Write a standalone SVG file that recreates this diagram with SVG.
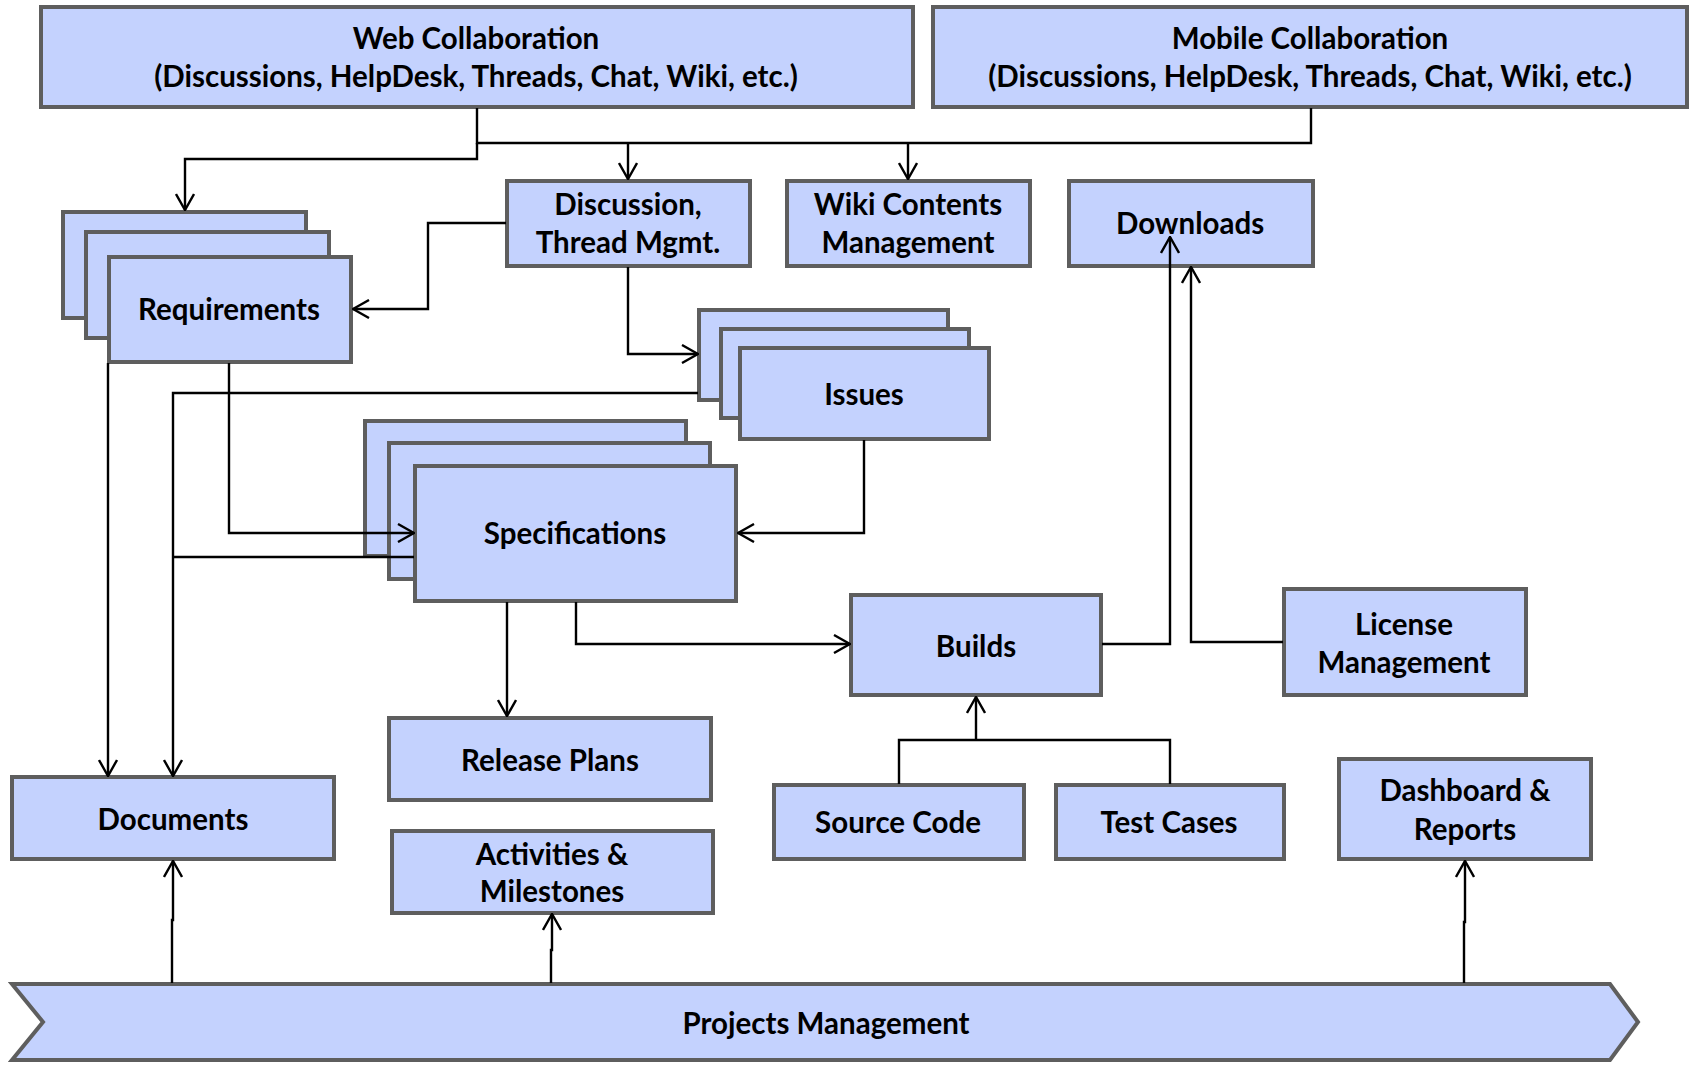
<svg xmlns="http://www.w3.org/2000/svg" width="1690" height="1067" viewBox="0 0 1690 1067">
<style>
.box{fill:#C4D2FE;stroke:#5E5E5E;stroke-width:4}
.t{font-family:Lato,"Open Sans","Liberation Sans",sans-serif;font-weight:bold;font-size:29.5px;fill:#000;text-anchor:middle;dominant-baseline:central}
.c{fill:none;stroke:#000;stroke-width:2.4}
</style>
<defs>
<marker id="ah" viewBox="0 0 18 20" refX="17" refY="10" markerWidth="18" markerHeight="20" markerUnits="userSpaceOnUse" orient="auto">
<path d="M1,1 L17,10 L1,19" fill="none" stroke="#000" stroke-width="2.4"/>
</marker>
</defs>
<rect width="1690" height="1067" fill="#fff"/>
<g id="web"><rect class="box" x="41" y="7" width="872" height="100"/><text class="t" x="476" y="37">Web Collaboration</text><text class="t" x="476" y="75">(Discussions, HelpDesk, Threads, Chat, Wiki, etc.)</text></g>
<g id="mobile"><rect class="box" x="933" y="7" width="754" height="100"/><text class="t" x="1310" y="37">Mobile Collaboration</text><text class="t" x="1310" y="75">(Discussions, HelpDesk, Threads, Chat, Wiki, etc.)</text></g>
<g id="discussion"><rect class="box" x="507" y="181" width="243" height="85"/><text class="t" x="628" y="203">Discussion,</text><text class="t" x="628" y="241">Thread Mgmt.</text></g>
<g id="wiki"><rect class="box" x="787" y="181" width="243" height="85"/><text class="t" x="908" y="203">Wiki Contents</text><text class="t" x="908" y="241">Management</text></g>
<g id="downloads"><rect class="box" x="1069" y="181" width="244" height="85"/><text class="t" x="1190" y="222">Downloads</text></g>
<g id="requirements"><rect class="box" x="63" y="212" width="243" height="106"/><rect class="box" x="86" y="232" width="243" height="106"/><rect class="box" x="109" y="257" width="242" height="105"/><text class="t" x="229" y="308">Requirements</text></g>
<g id="issues"><rect class="box" x="699" y="310" width="249" height="90"/><rect class="box" x="721" y="329" width="248" height="89"/><rect class="box" x="740" y="348" width="249" height="91"/><text class="t" x="864" y="393">Issues</text></g>
<g id="specifications"><rect class="box" x="365" y="421" width="321" height="135"/><rect class="box" x="389" y="443" width="321" height="136"/><rect class="box" x="415" y="466" width="321" height="135"/><text class="t" x="575" y="532">Specifications</text></g>
<g id="builds"><rect class="box" x="851" y="595" width="250" height="100"/><text class="t" x="976" y="645">Builds</text></g>
<g id="license"><rect class="box" x="1284" y="589" width="242" height="106"/><text class="t" x="1404" y="623">License</text><text class="t" x="1404" y="661">Management</text></g>
<g id="releaseplans"><rect class="box" x="389" y="718" width="322" height="82"/><text class="t" x="550" y="759">Release Plans</text></g>
<g id="documents"><rect class="box" x="12" y="777" width="322" height="82"/><text class="t" x="173" y="818">Documents</text></g>
<g id="activities"><rect class="box" x="392" y="831" width="321" height="82"/><text class="t" x="552" y="853">Activities &amp;</text><text class="t" x="552" y="890">Milestones</text></g>
<g id="sourcecode"><rect class="box" x="774" y="785" width="250" height="74"/><text class="t" x="898" y="821">Source Code</text></g>
<g id="testcases"><rect class="box" x="1056" y="785" width="228" height="74"/><text class="t" x="1169" y="821">Test Cases</text></g>
<g id="dashboard"><rect class="box" x="1339" y="759" width="252" height="100"/><text class="t" x="1465" y="789">Dashboard &amp;</text><text class="t" x="1465" y="828">Reports</text></g>
<g id="projects"><polygon class="box" points="12,984 1610,984 1638,1022 1610,1060 12,1060 43,1022"/><text class="t" x="826" y="1022">Projects Management</text></g>
<g id="connectors">
<path class="c" d="M477,108 V143 H1311 V108"/>
<path class="c" d="M628,143 V179" marker-end="url(#ah)"/>
<path class="c" d="M908,143 V179" marker-end="url(#ah)"/>
<path class="c" d="M477,143 V159 H185 V210" marker-end="url(#ah)"/>
<path class="c" d="M506,223 H428 V309 H353" marker-end="url(#ah)"/>
<path class="c" d="M628,267 V354 H698" marker-end="url(#ah)"/>
<path class="c" d="M108,363 V776" marker-end="url(#ah)"/>
<path class="c" d="M229,363 V533 H414" marker-end="url(#ah)"/>
<path class="c" d="M698,393 H173 V776" marker-end="url(#ah)"/>
<path class="c" d="M414,557 H173"/>
<path class="c" d="M864,440 V533 H738" marker-end="url(#ah)"/>
<path class="c" d="M507,602 V716" marker-end="url(#ah)"/>
<path class="c" d="M576,602 V644 H850" marker-end="url(#ah)"/>
<path class="c" d="M1102,644 H1170 V237" marker-end="url(#ah)"/>
<path class="c" d="M1283,642 H1191 V267" marker-end="url(#ah)"/>
<path class="c" d="M899,784 V740 H1170 V784"/>
<path class="c" d="M976,740 V697" marker-end="url(#ah)"/>
<path class="c" d="M172,983 V920 H173 V861" marker-end="url(#ah)"/>
<path class="c" d="M551,983 V950 H552 V914" marker-end="url(#ah)"/>
<path class="c" d="M1464,983 V922 H1465 V861" marker-end="url(#ah)"/>
</g>
</svg>
